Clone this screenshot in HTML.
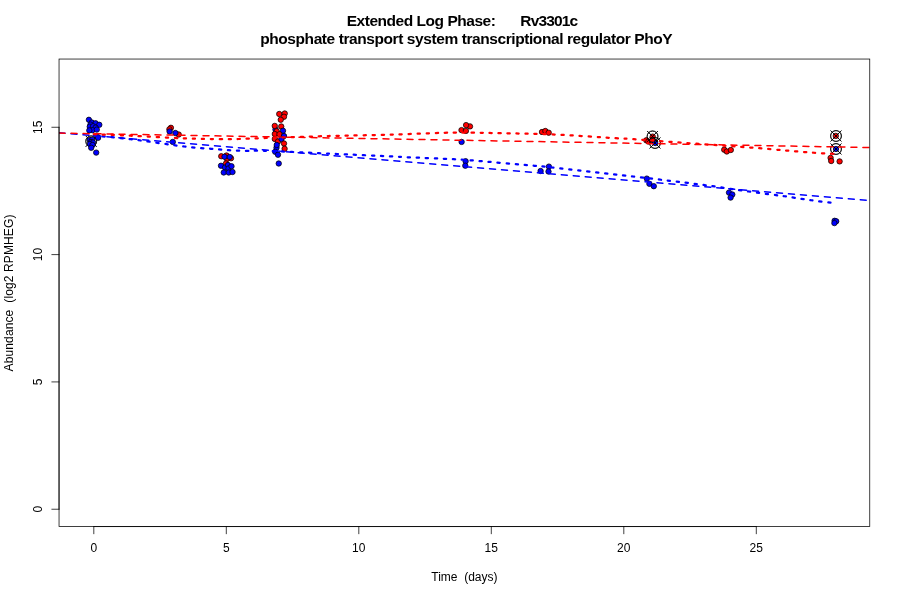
<!DOCTYPE html><html><head><meta charset="utf-8"><style>html,body{margin:0;padding:0;background:#fff;}svg{display:block;}</style></head><body><svg width="900" height="600" viewBox="0 0 900 600">
<rect width="900" height="600" fill="#fff"/>
<defs><clipPath id="c"><rect x="59.04" y="59.04" width="810.72" height="467.52"/></clipPath></defs>
<g font-family="Liberation Sans, sans-serif" font-weight="bold" font-size="15.5" fill="#000" text-anchor="middle" style="filter:grayscale(1)">
<text x="495.90" y="25.8" text-anchor="end" textLength="149.20" lengthAdjust="spacing">Extended Log Phase:</text>
<text x="520.30" y="25.8" text-anchor="start" textLength="57.90" lengthAdjust="spacing">Rv3301c</text>
<text x="466.40" y="43.8" textLength="412.40" lengthAdjust="spacing">phosphate transport system transcriptional regulator PhoY</text>
</g>
<g font-family="Liberation Sans, sans-serif" font-size="12" fill="#000" text-anchor="middle" style="filter:grayscale(1)">
<text x="93.80" y="552">0</text>
<text x="226.30" y="552">5</text>
<text x="358.80" y="552">10</text>
<text x="491.30" y="552">15</text>
<text x="623.80" y="552">20</text>
<text x="756.30" y="552">25</text>
<text transform="translate(41.8,509.24) rotate(-90)">0</text>
<text transform="translate(41.8,381.92) rotate(-90)">5</text>
<text transform="translate(41.8,254.60) rotate(-90)">10</text>
<text transform="translate(41.8,127.28) rotate(-90)">15</text>
<text x="464.40" y="581" xml:space="preserve">Time  (days)</text>
<text transform="translate(12.7,293.00) rotate(-90)" xml:space="preserve" textLength="156.80" lengthAdjust="spacing">Abundance  (log2 RPMHEG)</text>
</g>
<g stroke="#000" stroke-width="0.75">
<g fill="none"><g><circle cx="91.20" cy="141.30" r="5.40"/><path d="M85.80,135.90L96.60,146.70M85.80,146.70L96.60,135.90"/></g><g><circle cx="91.20" cy="141.30" r="5.40"/><path d="M85.80,135.90L96.60,146.70M85.80,146.70L96.60,135.90"/></g></g>
<circle cx="88.90" cy="119.80" r="2.70" fill="#0000ff"/><circle cx="91.80" cy="122.50" r="2.70" fill="#0000ff"/><circle cx="95.60" cy="123.30" r="2.70" fill="#0000ff"/><circle cx="90.50" cy="124.60" r="2.70" fill="#0000ff"/><circle cx="99.30" cy="124.80" r="2.70" fill="#0000ff"/><circle cx="89.75" cy="126.70" r="2.70" fill="#0000ff"/><circle cx="93.10" cy="126.25" r="2.70" fill="#0000ff"/><circle cx="95.60" cy="127.60" r="2.70" fill="#0000ff"/><circle cx="92.40" cy="130.20" r="2.70" fill="#0000ff"/><circle cx="96.80" cy="129.60" r="2.70" fill="#0000ff"/><circle cx="89.30" cy="130.40" r="2.70" fill="#0000ff"/><circle cx="97.60" cy="137.00" r="2.70" fill="#0000ff"/><circle cx="98.10" cy="137.80" r="2.70" fill="#0000ff"/><circle cx="89.80" cy="140.00" r="2.70" fill="#0000ff"/><circle cx="92.20" cy="139.60" r="2.70" fill="#0000ff"/><circle cx="91.00" cy="142.00" r="2.70" fill="#0000ff"/><circle cx="93.00" cy="142.50" r="2.70" fill="#0000ff"/><circle cx="89.90" cy="144.00" r="2.70" fill="#0000ff"/><circle cx="92.50" cy="145.00" r="2.70" fill="#0000ff"/><circle cx="91.20" cy="147.80" r="2.70" fill="#0000ff"/><circle cx="96.20" cy="152.60" r="2.70" fill="#0000ff"/>
<circle cx="170.90" cy="127.80" r="2.70" fill="#ff0000"/><circle cx="169.40" cy="129.30" r="2.70" fill="#ff0000"/><circle cx="178.70" cy="134.50" r="2.70" fill="#ff0000"/>
<circle cx="169.60" cy="131.50" r="2.70" fill="#0000ff"/><circle cx="175.40" cy="133.00" r="2.70" fill="#0000ff"/><circle cx="172.80" cy="141.90" r="2.70" fill="#0000ff"/>
<circle cx="221.25" cy="156.25" r="2.70" fill="#ff0000"/><circle cx="226.50" cy="155.50" r="2.70" fill="#ff0000"/><circle cx="231.00" cy="158.25" r="2.70" fill="#ff0000"/><circle cx="227.00" cy="158.90" r="2.70" fill="#ff0000"/><circle cx="226.00" cy="163.40" r="2.70" fill="#ff0000"/>
<circle cx="224.50" cy="156.75" r="2.70" fill="#0000ff"/><circle cx="229.75" cy="157.00" r="2.70" fill="#0000ff"/><circle cx="221.00" cy="165.75" r="2.70" fill="#0000ff"/><circle cx="225.00" cy="167.50" r="2.70" fill="#0000ff"/><circle cx="228.00" cy="165.00" r="2.70" fill="#0000ff"/><circle cx="228.50" cy="168.50" r="2.70" fill="#0000ff"/><circle cx="231.50" cy="166.25" r="2.70" fill="#0000ff"/><circle cx="223.75" cy="172.50" r="2.70" fill="#0000ff"/><circle cx="228.75" cy="172.50" r="2.70" fill="#0000ff"/><circle cx="232.50" cy="172.00" r="2.70" fill="#0000ff"/>
<circle cx="275.50" cy="129.50" r="2.70" fill="#0000ff"/>
<circle cx="279.25" cy="114.00" r="2.70" fill="#ff0000"/><circle cx="284.75" cy="113.50" r="2.70" fill="#ff0000"/><circle cx="284.00" cy="116.75" r="2.70" fill="#ff0000"/><circle cx="280.75" cy="119.75" r="2.70" fill="#ff0000"/><circle cx="274.75" cy="125.90" r="2.70" fill="#ff0000"/><circle cx="281.25" cy="126.50" r="2.70" fill="#ff0000"/>
<circle cx="283.00" cy="130.75" r="2.70" fill="#0000ff"/>
<circle cx="276.75" cy="131.25" r="2.70" fill="#ff0000"/><circle cx="274.80" cy="134.00" r="2.70" fill="#ff0000"/><circle cx="279.50" cy="134.20" r="2.70" fill="#ff0000"/><circle cx="274.80" cy="139.00" r="2.70" fill="#ff0000"/><circle cx="278.00" cy="141.50" r="2.70" fill="#ff0000"/>
<circle cx="284.00" cy="136.00" r="2.70" fill="#0000ff"/><circle cx="281.50" cy="139.00" r="2.70" fill="#0000ff"/><circle cx="276.50" cy="147.80" r="2.70" fill="#0000ff"/><circle cx="276.75" cy="145.00" r="2.70" fill="#0000ff"/>
<circle cx="284.00" cy="143.50" r="2.70" fill="#ff0000"/><circle cx="284.60" cy="148.80" r="2.70" fill="#ff0000"/>
<circle cx="275.20" cy="151.80" r="2.70" fill="#0000ff"/><circle cx="278.00" cy="154.75" r="2.70" fill="#0000ff"/><circle cx="278.75" cy="163.50" r="2.70" fill="#0000ff"/>
<circle cx="470.00" cy="126.40" r="2.70" fill="#ff0000"/><circle cx="466.10" cy="125.10" r="2.70" fill="#ff0000"/><circle cx="461.50" cy="130.10" r="2.70" fill="#ff0000"/><circle cx="465.90" cy="130.90" r="2.70" fill="#ff0000"/>
<circle cx="461.60" cy="141.90" r="2.70" fill="#0000ff"/><circle cx="465.60" cy="161.20" r="2.70" fill="#0000ff"/><circle cx="465.30" cy="165.70" r="2.70" fill="#0000ff"/>
<circle cx="542.00" cy="132.00" r="2.70" fill="#ff0000"/><circle cx="545.30" cy="131.00" r="2.70" fill="#ff0000"/><circle cx="548.70" cy="132.70" r="2.70" fill="#ff0000"/>
<circle cx="540.60" cy="171.00" r="2.70" fill="#0000ff"/><circle cx="548.90" cy="166.60" r="2.70" fill="#0000ff"/><circle cx="548.50" cy="171.55" r="2.70" fill="#0000ff"/>
<circle cx="646.30" cy="140.30" r="2.70" fill="#ff0000"/><circle cx="648.30" cy="141.50" r="2.70" fill="#ff0000"/><circle cx="652.70" cy="136.60" r="2.70" fill="#ff0000"/><circle cx="652.50" cy="140.30" r="2.70" fill="#ff0000"/>
<circle cx="655.20" cy="143.00" r="2.70" fill="#0000ff"/><circle cx="646.80" cy="178.60" r="2.70" fill="#0000ff"/><circle cx="649.40" cy="183.80" r="2.70" fill="#0000ff"/><circle cx="653.80" cy="186.20" r="2.70" fill="#0000ff"/>
<circle cx="724.20" cy="149.70" r="2.70" fill="#ff0000"/><circle cx="726.80" cy="151.50" r="2.70" fill="#ff0000"/><circle cx="730.80" cy="150.00" r="2.70" fill="#ff0000"/>
<circle cx="729.00" cy="192.60" r="2.70" fill="#0000ff"/><circle cx="732.30" cy="194.50" r="2.70" fill="#0000ff"/><circle cx="730.60" cy="197.60" r="2.70" fill="#0000ff"/>
<circle cx="835.80" cy="135.90" r="2.70" fill="#ff0000"/><circle cx="830.60" cy="157.90" r="2.70" fill="#ff0000"/><circle cx="831.20" cy="161.00" r="2.70" fill="#ff0000"/><circle cx="839.60" cy="161.40" r="2.70" fill="#ff0000"/>
<circle cx="836.00" cy="149.00" r="2.70" fill="#0000ff"/><circle cx="834.60" cy="220.80" r="2.70" fill="#0000ff"/><circle cx="836.20" cy="221.30" r="2.70" fill="#0000ff"/><circle cx="834.40" cy="223.10" r="2.70" fill="#0000ff"/>
<g fill="none"><g><circle cx="652.55" cy="136.40" r="5.40"/><path d="M647.15,131.00L657.95,141.80M647.15,141.80L657.95,131.00"/></g><g><circle cx="655.00" cy="143.00" r="5.40"/><path d="M649.60,137.60L660.40,148.40M649.60,148.40L660.40,137.60"/></g><g><circle cx="836.00" cy="136.00" r="5.40"/><path d="M830.60,130.60L841.40,141.40M830.60,141.40L841.40,130.60"/></g><g><circle cx="836.00" cy="149.00" r="5.40"/><path d="M830.60,143.60L841.40,154.40M830.60,154.40L841.40,143.60"/></g><g><circle cx="652.55" cy="136.40" r="5.40"/><path d="M647.15,131.00L657.95,141.80M647.15,141.80L657.95,131.00"/></g><g><circle cx="655.00" cy="143.00" r="5.40"/><path d="M649.60,137.60L660.40,148.40M649.60,148.40L660.40,137.60"/></g><g><circle cx="836.00" cy="136.00" r="5.40"/><path d="M830.60,130.60L841.40,141.40M830.60,141.40L841.40,130.60"/></g><g><circle cx="836.00" cy="149.00" r="5.40"/><path d="M830.60,143.60L841.40,154.40M830.60,154.40L841.40,143.60"/></g></g>
</g>
<g clip-path="url(#c)" fill="none" stroke-linecap="round">
<path d="M59.04,132.80L869.76,200.50" stroke="#0000ff" stroke-width="1.5" stroke-dasharray="6 6"/>
<path d="M93.80,135.50 C99.95,136.12 115.63,137.37 130.70,139.20 C145.77,141.03 170.85,144.90 184.20,146.50 C197.55,148.10 203.35,148.18 210.80,148.80 C218.25,149.42 222.92,149.85 228.90,150.20 C234.88,150.55 240.68,150.80 246.70,150.90 C252.72,151.00 252.95,150.42 265.00,150.80 C277.05,151.18 307.00,152.67 319.00,153.20 C331.00,153.73 325.05,153.47 337.00,154.00 C348.95,154.53 378.75,155.85 390.70,156.40 C402.65,156.95 398.20,156.83 408.70,157.30 C419.20,157.77 443.20,158.68 453.70,159.20 C464.20,159.72 458.22,159.30 471.70,160.40 C485.18,161.50 521.22,164.62 534.60,165.80 C547.98,166.98 535.60,165.72 552.00,167.50 C568.40,169.28 608.33,173.67 633.00,176.50 C657.67,179.33 680.71,182.00 700.00,184.50 C719.29,187.00 734.68,189.54 748.75,191.50 C762.82,193.46 773.98,194.79 784.40,196.25 C794.82,197.71 802.68,199.07 811.25,200.25 C819.82,201.43 831.71,202.79 835.80,203.30" stroke="#0000ff" stroke-width="2.25" stroke-dasharray="2.25 6.75"/>
<path d="M59.04,133.10L869.76,147.50" stroke="#ff0000" stroke-width="1.5" stroke-dasharray="6 6"/>
<path d="M93.80,134.20 C99.95,134.45 115.55,135.00 130.70,135.70 C145.85,136.40 169.68,137.82 184.70,138.40 C199.72,138.98 211.82,139.10 220.80,139.20 C229.78,139.30 231.10,139.20 238.60,139.00 C246.10,138.80 252.40,138.45 265.80,138.00 C279.20,137.55 306.97,136.67 319.00,136.30 C331.03,135.93 325.83,136.08 338.00,135.80 C350.17,135.52 374.33,135.10 392.00,134.60 C409.67,134.10 430.67,133.12 444.00,132.80 C457.33,132.48 462.67,132.63 472.00,132.70 C481.33,132.77 486.67,132.92 500.00,133.20 C513.33,133.48 532.67,133.57 552.00,134.40 C571.33,135.23 602.33,137.40 616.00,138.20 C629.67,139.00 620.00,138.23 634.00,139.20 C648.00,140.17 680.67,142.62 700.00,144.00 C719.33,145.38 735.50,146.40 750.00,147.50 C764.50,148.60 776.38,149.72 787.00,150.60 C797.62,151.47 805.62,152.18 813.75,152.75 C821.88,153.32 832.12,153.79 835.80,154.00" stroke="#ff0000" stroke-width="2.25" stroke-dasharray="2.25 6.75"/>
</g>
<g stroke="#000" stroke-width="0.75" fill="none" stroke-linecap="round">
<rect x="59.04" y="59.04" width="810.72" height="467.52" stroke-linecap="butt"/>
<path d="M93.80,526.56L756.30,526.56M93.80,526.56L93.80,533.76M226.30,526.56L226.30,533.76M358.80,526.56L358.80,533.76M491.30,526.56L491.30,533.76M623.80,526.56L623.80,533.76M756.30,526.56L756.30,533.76"/><path d="M59.04,509.24L59.04,127.28M59.04,509.24L51.84,509.24M59.04,381.92L51.84,381.92M59.04,254.60L51.84,254.60M59.04,127.28L51.84,127.28"/>
</g>
</svg></body></html>
